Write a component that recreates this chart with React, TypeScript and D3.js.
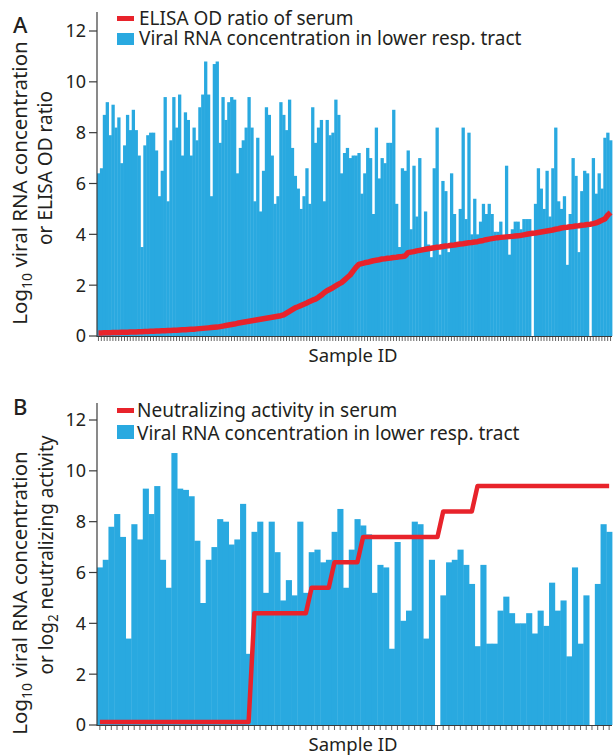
import * as d3 from "d3";
import React from "react";

// Panel A: viral RNA per sample (log10) and sorted ELISA OD ratio
const viralA = [
  6.4, 6.6, 8.7, 9.2, 7.9, 9.1, 8.2, 8.6, 6.8, 7.5,
  8.7, 8.1, 8.9, 8.1, 7.1, 3.5, 7.5, 7.9, 8.0, 8.0,
  7.3, 5.5, 6.5, 9.4, 5.3, 7.7, 9.4, 8.2, 9.5, 7.1,
  8.8, 8.5, 7.1, 8.2, 7.7, 9.0, 9.5, 10.8, 9.5, 5.5,
  10.7, 10.8, 7.6, 9.4, 8.5, 9.2, 9.4, 9.3, 6.4, 7.4,
  7.7, 8.2, 9.4, 8.2, 5.3, 7.8, 4.9, 6.5, 9.0, 8.7,
  7.1, 5.2, 5.5, 9.2, 8.7, 8.1, 9.3, 7.4, 6.3, 5.8,
  5.0, 5.5, 6.6, 5.2, 9.0, 7.6, 8.2, 8.5, 5.3, 8.5,
  7.9, 8.0, 9.3, 8.7, 6.4, 7.2, 7.4, 7.0, 7.1,
  7.1, 7.2, 5.6, 6.4, 7.4, 7.0, 4.8, 8.2, 6.2, 7.0,
  6.8, 7.6, 7.6, 8.9, 5.2, 3.5, 6.6, 6.5, 7.3, 4.2,
  6.7, 4.7, 7.0, 3.5, 4.9, 3.6, 3.1, 6.6, 8.2, 3.2,
  6.1, 5.7, 3.3, 6.4, 4.8, 3.7, 5.0, 8.2, 4.6, 8.0,
  4.0, 5.4, 4.0, 4.5, 5.2, 4.8, 5.2, 4.8, 4.1, 4.1,
  4.5, 3.9, 6.7, 3.2, 4.2, 4.5, 4.5, 4.2, 4.6, 4.6,
  4.6, 0, 5.2, 6.6, 5.8, 5.0, 6.5, 4.7, 6.6, 8.2,
  5.3, 5.0, 5.5, 2.8, 4.8, 7.0, 6.3, 3.3, 5.7, 6.5,
  6.4, 0, 7.0, 5.6, 6.4, 5.8, 7.8, 8.0, 7.7,
];

const elisaA = [
  0.12, 0.12, 0.13, 0.13, 0.13, 0.14, 0.14, 0.14, 0.15, 0.15,
  0.15, 0.16, 0.16, 0.16, 0.17, 0.17, 0.18, 0.18, 0.19, 0.19,
  0.2, 0.2, 0.21, 0.21, 0.22, 0.22, 0.23, 0.23, 0.24, 0.25,
  0.25, 0.26, 0.27, 0.27, 0.28, 0.29, 0.3, 0.31, 0.32, 0.33, 0.34,
  0.35, 0.37, 0.39, 0.41, 0.43, 0.45, 0.47, 0.5,
  0.52, 0.54, 0.56, 0.58, 0.6, 0.62, 0.64, 0.66,
  0.68, 0.7, 0.72, 0.74, 0.76, 0.78, 0.8,
  0.83, 0.9, 0.97, 1.04,
  1.11, 1.15, 1.2, 1.25, 1.3, 1.36, 1.41,
  1.45, 1.52, 1.6, 1.7, 1.78,
  1.84, 1.9, 1.97, 2.04,
  2.1, 2.2, 2.3,
  2.4, 2.55, 2.7,
  2.82, 2.85, 2.88, 2.9, 2.93, 2.96, 2.98, 3.0,
  3.03, 3.04, 3.06, 3.07, 3.09, 3.1, 3.12, 3.13,
  3.15, 3.28, 3.3, 3.32, 3.35, 3.37, 3.39, 3.41, 3.43,
  3.45, 3.47, 3.49, 3.5, 3.52, 3.54, 3.55, 3.57, 3.58,
  3.6, 3.62, 3.63, 3.65, 3.67, 3.68, 3.7,
  3.71, 3.74, 3.76, 3.79, 3.81, 3.83, 3.85,
  3.87, 3.88, 3.89, 3.9, 3.91, 3.92, 3.93,
  3.94, 3.96, 3.98, 4.0, 4.02, 4.04, 4.05,
  4.07, 4.09, 4.11, 4.13, 4.15, 4.17, 4.2, 4.22, 4.25,
  4.27, 4.28, 4.3, 4.31, 4.33, 4.34, 4.36, 4.37, 4.39,
  4.4, 4.42, 4.45, 4.5,
  4.55, 4.6, 4.75, 4.86,
];

// Panel B: viral RNA per sample and log2 neutralizing activity
const viralB = [
  6.2, 6.5, 7.8, 8.3, 7.4, 3.4, 7.9, 7.3, 9.3, 8.3,
  9.4, 6.5, 5.4, 10.7, 9.3, 9.25, 9.0, 7.25, 4.8, 6.5,
  7.0, 8.1, 8.0, 7.1, 7.3, 8.7, 2.8, 7.6, 8.0, 5.2,
  8.0, 6.8, 4.9, 5.7, 5.1, 8.0, 5.2, 6.8, 6.9, 6.4,
  6.5, 7.6, 8.5, 5.4, 6.9,
  8.1, 7.85, 7.5, 5.2, 6.3, 6.2, 3.0, 7.2, 4.1, 4.5,
  8.0, 7.9, 3.4, 6.5, 0, 5.1, 6.4, 6.5, 6.9, 6.3,
  5.55, 3.1, 6.3, 3.2, 3.2, 4.5, 5.05, 4.4, 4.0, 4.0,
  4.4, 3.6, 4.5, 3.9, 5.6, 4.5, 4.9, 2.7, 6.2, 3.2,
  5.1, 0, 5.55, 7.9, 7.6,
];

const neutB = [
  0.12, 0.12, 0.12, 0.12, 0.12, 0.12, 0.12, 0.12, 0.12, 0.12,
  0.12, 0.12, 0.12, 0.12, 0.12, 0.12, 0.12, 0.12, 0.12, 0.12,
  0.12, 0.12, 0.12, 0.12, 0.12, 0.12, 0.12,
  4.4, 4.4, 4.4, 4.4, 4.4, 4.4, 4.4, 4.4, 4.4, 4.4,
  5.4, 5.4, 5.4, 5.4,
  6.4, 6.4, 6.4, 6.4, 6.4,
  7.4, 7.4, 7.4, 7.4, 7.4, 7.4, 7.4, 7.4, 7.4, 7.4, 7.4, 7.4, 7.4, 7.4,
  8.4, 8.4, 8.4, 8.4, 8.4, 8.4,
  9.4, 9.4, 9.4, 9.4, 9.4, 9.4, 9.4, 9.4, 9.4, 9.4, 9.4, 9.4,
  9.4, 9.4, 9.4, 9.4, 9.4, 9.4, 9.4, 9.4, 9.4, 9.4, 9.4, 9.4,
];

const yTicks = [0, 2, 4, 6, 8, 10, 12];

const BLUE = "#29a9e0";
const RED = "#e8232b";
const INK = "#231f20";
const AXIS = "#3b3b3b";
const FONT = "'Noto Sans', 'DejaVu Sans', sans-serif";

const LEFT = 97;
const RIGHT = 612;

type PanelProps = {
  bars: number[];
  line: number[];
  y0: number;
  y12: number;
  axisTop: number;
  lineWidth: number;
};

function Panel({ bars, line, y0, y12, axisTop, lineWidth }: PanelProps) {
  const x = d3.scaleBand<number>().domain(d3.range(bars.length)).range([LEFT, RIGHT]).padding(0);
  const y = d3.scaleLinear().domain([0, 12]).range([y0, y12]);
  const bw = x.bandwidth();
  const path = d3.line<number>()
    .x((_, i) => x(i)! + bw / 2)
    .y(d => y(d))(line)!;

  return (
    <g>
      {bars.map((v, i) => (
        <rect key={i} x={x(i)!} y={y(v)} width={bw + 0.4} height={y0 - y(v)} fill={BLUE} />
      ))}
      <path d={path} fill="none" stroke={RED} strokeWidth={lineWidth} strokeLinejoin="round" strokeLinecap="butt" />
      {/* y axis */}
      <line x1={LEFT} x2={LEFT} y1={axisTop} y2={y0 + 1} stroke={AXIS} strokeWidth={1.2} />
      {yTicks.map(t => (
        <g key={t}>
          <line x1={LEFT - 8} x2={LEFT} y1={y(t)} y2={y(t)} stroke={AXIS} strokeWidth={1.2} />
          <text x={LEFT - 11} y={y(t)} dy="0.36em" textAnchor="end" fontSize={18} fill={INK} fontFamily={FONT}>{t}</text>
        </g>
      ))}
      {/* x axis with a tick per sample */}
      <line x1={LEFT} x2={RIGHT} y1={y0 + 0.5} y2={y0 + 0.5} stroke={AXIS} strokeWidth={1.2} />
      {bars.map((_, i) => (
        <line key={i} x1={x(i)! + bw / 2} x2={x(i)! + bw / 2} y1={y0} y2={y0 + 5} stroke={AXIS} strokeWidth={0.8} />
      ))}
      <text x={353} y={y0 + 26} textAnchor="middle" fontSize={18.5} fill={INK} fontFamily={FONT}>Sample ID</text>
    </g>
  );
}

export default function App() {
  return (
    <div>
      <style>{`body{margin:0}`}</style>
      <svg width={615} height={755} style={{ display: "block", background: "#fff" }}>
        {/* Panel A */}
        <Panel bars={viralA} line={elisaA} y0={336} y12={31} axisTop={12} lineWidth={5.5} />
        <text x={13} y={33} fontSize={22} fontWeight={500} fontFamily={FONT} fill={INK}>A</text>
        <rect x={117} y={16} width={17} height={5} fill={RED} />
        <text x={139} y={25} fontSize={19} fontFamily={FONT} fill={INK}>ELISA OD ratio of serum</text>
        <rect x={117} y={33} width={17} height={12} fill={BLUE} />
        <text x={139} y={45} fontSize={19} fontFamily={FONT} fill={INK}>Viral RNA concentration in lower resp. tract</text>
        <text transform="translate(27,183) rotate(-90)" textAnchor="middle" fontSize={20.5} fontFamily={FONT} fill={INK}>
          Log<tspan dy={5} fontSize={14}>10</tspan><tspan dy={-5}> viral RNA concentration</tspan>
        </text>
        <text transform="translate(52,168) rotate(-90)" textAnchor="middle" fontSize={19} fontFamily={FONT} fill={INK}>
          or ELISA OD ratio
        </text>

        {/* Panel B */}
        <Panel bars={viralB} line={neutB} y0={725} y12={420} axisTop={403} lineWidth={4.5} />
        <text x={13} y={415} fontSize={22} fontWeight={500} fontFamily={FONT} fill={INK}>B</text>
        <rect x={117} y={408} width={17} height={5} fill={RED} />
        <text x={137} y={417} fontSize={19} fontFamily={FONT} fill={INK}>Neutralizing activity in serum</text>
        <rect x={117} y={425} width={17} height={14} fill={BLUE} />
        <text x={137} y={440} fontSize={19} fontFamily={FONT} fill={INK}>Viral RNA concentration in lower resp. tract</text>
        <text transform="translate(27,593) rotate(-90)" textAnchor="middle" fontSize={20.5} fontFamily={FONT} fill={INK}>
          Log<tspan dy={5} fontSize={14}>10</tspan><tspan dy={-5}> viral RNA concentration</tspan>
        </text>
        <text transform="translate(53,555) rotate(-90)" textAnchor="middle" fontSize={19} fontFamily={FONT} fill={INK}>
          or log<tspan dy={5} fontSize={13.5}>2</tspan><tspan dy={-5}> neutralizing activity</tspan>
        </text>
      </svg>
    </div>
  );
}
